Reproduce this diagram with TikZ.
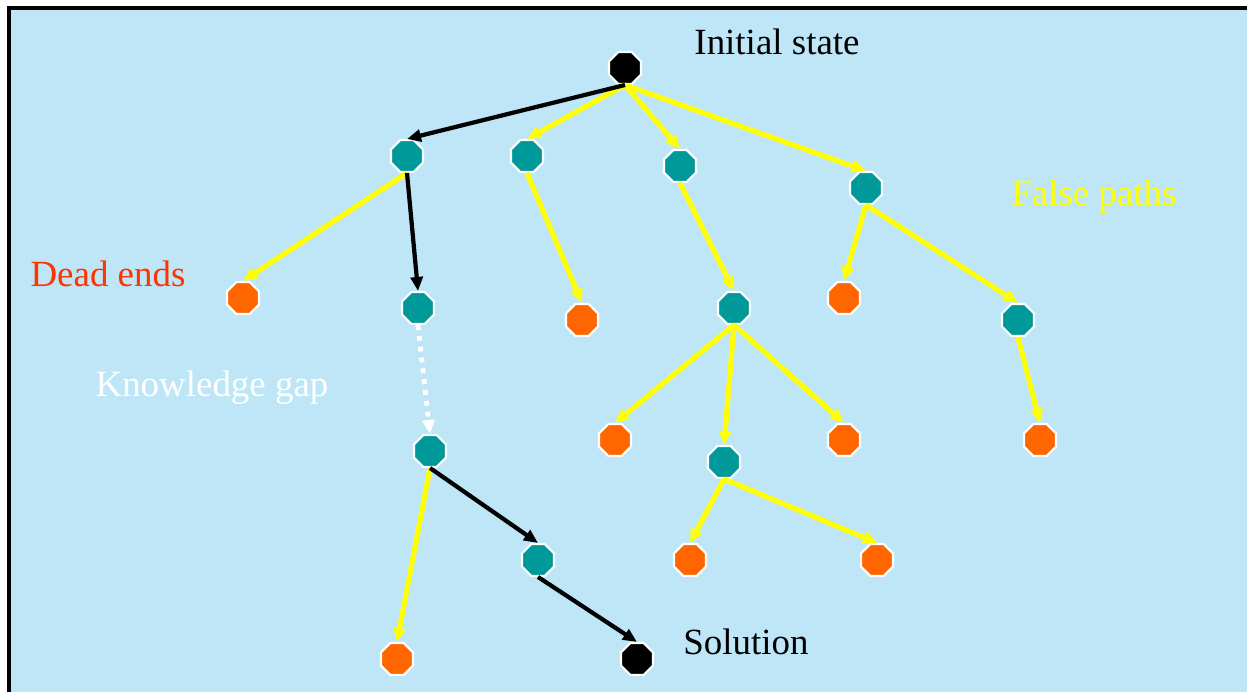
\documentclass[tikz,border=0pt]{standalone}
\usepackage{fontspec}
\setmainfont{Liberation Serif}
\usetikzlibrary{shapes.geometric,arrows.meta}
\definecolor{skyblue}{HTML}{BEE6F7}
\definecolor{tealN}{HTML}{009999}
\definecolor{orangeN}{HTML}{FF6600}
\definecolor{redT}{HTML}{FF3300}
\definecolor{yellowL}{HTML}{FFFF00}

\begin{document}
\begin{tikzpicture}
  [x=0.01cm,y=-0.01cm,
   stateN/.style={regular polygon,regular polygon sides=8,minimum size=0.345cm,
     inner sep=0pt,draw=white,line width=0.6pt},
   openN/.style={stateN,fill=tealN},
   deadN/.style={stateN,fill=orangeN},
   goalN/.style={stateN,fill=black},
   falseL/.style={draw=yellowL,line width=1.45pt,-{Triangle[length=1.4mm,width=1.2mm]}},
   trueL/.style={draw=black,line width=1.2pt,-{Triangle[length=1.4mm,width=1.2mm]}},
   gapL/.style={draw=white,line width=1.4pt,dash pattern=on 1.4pt off 1.7pt,
     -{Triangle[length=1.4mm,width=1.2mm]}},
   lbl/.style={font=\fontsize{10.5}{12}\selectfont,anchor=base,inner sep=0pt}]

  \useasboundingbox (0,0) rectangle (1247,692);
  \fill[skyblue] (9,8) rectangle (1247,692);
  \draw[line width=0.9pt] (9,692) -- (9,8) -- (1247,8);

  % states
  \node[goalN] (init) at (625,68) {};
  \node[openN] (a) at (407,156) {};
  \node[openN] (b) at (527,156) {};
  \node[openN] (c) at (680,166) {};
  \node[openN] (d) at (866,188) {};
  \node[deadN] (a1) at (243,298) {};
  \node[openN] (a2) at (418,308) {};
  \node[deadN] (b1) at (582,320) {};
  \node[openN] (c1) at (734,308) {};
  \node[deadN] (d1) at (844,298) {};
  \node[openN] (d2) at (1018,320) {};
  \node[deadN] (d21) at (1040,440) {};
  \node[deadN] (c11) at (615,440) {};
  \node[openN] (c12) at (724,462) {};
  \node[deadN] (c13) at (844,440) {};
  \node[deadN] (c121) at (690,560) {};
  \node[deadN] (c122) at (877,560) {};
  \node[openN] (g) at (430,451) {};
  \node[deadN] (g1) at (397,659) {};
  \node[openN] (g2) at (538,560) {};
  \node[goalN] (sol) at (637,659) {};

  % labels
  \node[lbl] (tInit) at (777,55) {Initial state};
  \node[lbl,text=yellowL] (tFalse) at (1094,206) {False paths};
  \node[lbl,text=redT] (tDead) at (108,287) {Dead ends};
  \node[lbl,text=white] (tGap) at (212,397) {Knowledge gap};
  \node[lbl] (tSol) at (746,655) {Solution};

  % false paths
  \draw[falseL] (init.south) -- (b.north);
  \draw[falseL] (init.south) -- (c.north);
  \draw[falseL] (init.south) -- (d.north);
  \draw[falseL] (a.south) -- (a1.north);
  \draw[falseL] (b.south) -- (b1.north);
  \draw[falseL] (c.south) -- (c1.north);
  \draw[falseL] (d.south) -- (d1.north);
  \draw[falseL] (d.south) -- (d2.north);
  \draw[falseL] (d2.south) -- (d21.north);
  \draw[falseL] (c1.south) -- (c11.north);
  \draw[falseL] (c1.south) -- (c12.north);
  \draw[falseL] (c1.south) -- (c13.north);
  \draw[falseL] (c12.south) -- (c121.north);
  \draw[falseL] (c12.south) -- (c122.north);
  \draw[falseL] (g.south) -- (g1.north);

  % solution path
  \draw[trueL] (init.south) -- (a.north);
  \draw[trueL] (a.south) -- (a2.north);
  \draw[gapL] (a2.south) -- (g.north);
  \draw[trueL] (g.south) -- (g2.north);
  \draw[trueL] (g2.south) -- (sol.north);

\end{tikzpicture}
\end{document}
